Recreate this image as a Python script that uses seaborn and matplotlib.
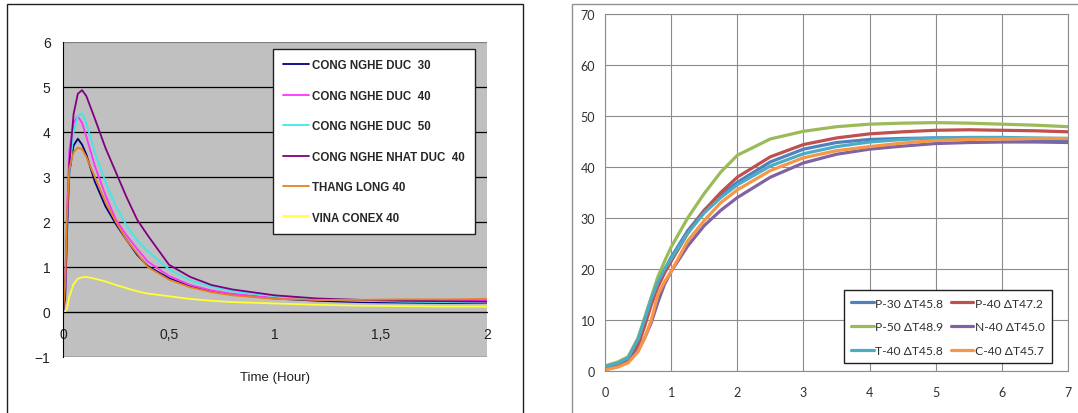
import matplotlib
matplotlib.use('Agg')
import matplotlib.pyplot as plt
from matplotlib.patches import Rectangle
import seaborn as sns

# ── Left chart: time (hour) vs value ──
TIME_L = [0, 0.01, 0.02, 0.03, 0.05, 0.07, 0.09, 0.11, 0.15, 0.2, 0.25, 0.3,
          0.35, 0.4, 0.5, 0.6, 0.7, 0.8, 1.0, 1.2, 1.4, 1.6, 1.8, 2.0]
DUC_30 = [0, 0.4, 2.0, 3.1, 3.7, 3.85, 3.72, 3.5, 2.9, 2.35, 1.95, 1.6,
          1.27, 1.02, 0.75, 0.57, 0.46, 0.39, 0.3, 0.25, 0.22, 0.21, 0.2, 0.2]
DUC_40 = [0, 0.5, 2.4, 3.6, 4.2, 4.35, 4.2, 3.9, 3.25, 2.6, 2.05, 1.7,
          1.4, 1.12, 0.8, 0.6, 0.48, 0.4, 0.31, 0.27, 0.25, 0.24, 0.24, 0.25]
DUC_50 = [0, 0.3, 1.8, 3.1, 4.0, 4.35, 4.42, 4.2, 3.55, 2.9, 2.35, 1.92,
          1.6, 1.35, 0.95, 0.7, 0.56, 0.46, 0.35, 0.28, 0.25, 0.23, 0.22, 0.21]
NHAT_DUC_40 = [0, 0.3, 1.9, 3.3, 4.4, 4.85, 4.93, 4.8, 4.3, 3.65, 3.1, 2.55,
               2.05, 1.7, 1.05, 0.78, 0.6, 0.5, 0.37, 0.3, 0.27, 0.25, 0.24, 0.23]
THANG_LONG_40 = [0, 0.6, 2.3, 3.2, 3.55, 3.65, 3.62, 3.45, 3.0, 2.45, 2.0, 1.6,
                 1.3, 1.0, 0.72, 0.55, 0.44, 0.37, 0.29, 0.27, 0.27, 0.28, 0.28, 0.29]
VINA_CONEX_40 = [0, 0.0, 0.1, 0.35, 0.62, 0.74, 0.77, 0.78, 0.74, 0.68, 0.6, 0.53,
                 0.46, 0.41, 0.35, 0.29, 0.25, 0.22, 0.19, 0.16, 0.14, 0.13, 0.12, 0.12]

LEFT_SERIES = [
    ('CONG NGHE DUC  30', DUC_30, '#000080'),
    ('CONG NGHE DUC  40', DUC_40, '#ff33ff'),
    ('CONG NGHE DUC  50', DUC_50, '#40e8e8'),
    ('CONG NGHE NHAT DUC  40', NHAT_DUC_40, '#800080'),
    ('THANG LONG 40', THANG_LONG_40, '#e8801e'),
    ('VINA CONEX 40', VINA_CONEX_40, '#ffff33'),
]
LEFT_XTICKS = [0, 0.5, 1, 1.5, 2]
LEFT_XLABELS = ['0', '0,5', '1', '1,5', '2']

# ── Right chart ──
TIME_R = [0, 0.2, 0.35, 0.5, 0.6, 0.7, 0.8, 0.9, 1.0, 1.25, 1.5, 1.75, 2.0,
          2.5, 3.0, 3.5, 4.0, 4.5, 5.0, 5.5, 6.0, 6.5, 7.0]
P30 = [0.5, 1.2, 2.2, 5.5, 9.5, 13.5, 17.0, 19.8, 22.3, 27.5, 31.5, 34.5, 37.0,
       41.0, 43.5, 44.8, 45.4, 45.6, 45.7, 45.7, 45.6, 45.4, 45.2]
P40 = [0.5, 1.2, 2.2, 5.0, 8.8, 13.0, 16.5, 19.2, 21.5, 27.0, 31.5, 35.0, 38.0,
       42.0, 44.4, 45.7, 46.5, 46.9, 47.2, 47.3, 47.2, 47.1, 46.9]
P50 = [1.0, 1.8, 2.8, 6.5, 10.5, 14.5, 18.5, 21.5, 24.3, 30.0, 34.8, 39.0, 42.3,
       45.5, 47.0, 47.9, 48.4, 48.6, 48.7, 48.6, 48.4, 48.2, 47.9]
N40 = [0.3, 0.9, 1.8, 4.0, 6.5, 9.5, 13.5, 17.0, 19.5, 24.5, 28.5, 31.5, 34.0,
       38.0, 40.8, 42.5, 43.5, 44.1, 44.6, 44.8, 44.9, 44.9, 44.8]
T40 = [0.8, 1.6, 2.6, 6.2, 10.2, 14.2, 17.5, 20.0, 22.0, 27.0, 31.0, 34.0, 36.5,
       40.2, 42.6, 44.0, 44.9, 45.4, 45.7, 45.8, 45.8, 45.7, 45.6]
C40 = [0.2, 0.8, 1.6, 3.8, 6.5, 10.0, 15.0, 17.5, 19.5, 25.5, 29.5, 33.0, 35.5,
       39.3, 41.8, 43.2, 44.0, 44.7, 45.2, 45.4, 45.5, 45.6, 45.6]

RIGHT_SERIES = [
    ('P-30 ΔT45.8', P30, '#4f81bd'),
    ('P-40 ΔT47.2', P40, '#c0504d'),
    ('P-50 ΔT48.9', P50, '#9bbb59'),
    ('N-40 ΔT45.0', N40, '#8064a2'),
    ('T-40 ΔT45.8', T40, '#4bacc6'),
    ('C-40 ΔT45.7', C40, '#f79646'),
]

sns.set_style('white')
plt.rcParams['font.family'] = ['Liberation Sans', 'DejaVu Sans']

fig = plt.figure(figsize=(10.78, 4.14), dpi=100)

# outer frames
fig.add_artist(Rectangle((7 / 1078, -0.1), 516 / 1078, 1 - 5 / 414 + 0.1,
                         transform=fig.transFigure, fill=False,
                         edgecolor='#202020', linewidth=1))
fig.add_artist(Rectangle((572 / 1078, -0.1), 0.5, 1 - 5 / 414 + 0.1,
                         transform=fig.transFigure, fill=False,
                         edgecolor='#909090', linewidth=1))

# ── left panel ──
axL = fig.add_axes([63 / 1078, 1 - 358 / 414, 424 / 1078, 315 / 414])
axL.set_facecolor('#c0c0c0')
for lab, vals, col in LEFT_SERIES:
    sns.lineplot(x=TIME_L, y=vals, ax=axL, color=col, linewidth=1.3, label=lab)
axL.set_xlim(0, 2)
axL.set_ylim(-1, 6)
for yv in range(-1, 6):
    axL.axhline(yv, color='black', linewidth=0.9, zorder=0.5)
axL.axhline(6, color='#808080', linewidth=0.9, zorder=0.5)
for s in ['top', 'right']:
    axL.spines[s].set_visible(False)
axL.spines['left'].set_color('black')
axL.spines['bottom'].set_position(('data', 0))
axL.spines['bottom'].set_color('black')
axL.set_xticks(LEFT_XTICKS)
axL.set_xticklabels(LEFT_XLABELS)
axL.set_yticks(range(-1, 7))
axL.tick_params(axis='x', direction='in', length=4, width=0.8, color='black',
                pad=11, labelsize=10, labelcolor='#202020')
axL.tick_params(axis='y', length=0, pad=9, labelsize=10, labelcolor='#202020')
axL.set_xlabel('Time (Hour)', fontsize=9.5, color='#202020')
axL.xaxis.set_label_coords(0.5, -0.045)
axL.set_ylabel('')
legL = axL.legend(loc='upper right', bbox_to_anchor=(0.972, 0.978),
                  borderaxespad=0, frameon=True, fancybox=False,
                  edgecolor='#202020', framealpha=1, handlelength=2.2,
                  handletextpad=0.3, labelspacing=1.6, borderpad=0.9,
                  prop={'weight': 'bold', 'size': 8.3})
legL.get_frame().set_linewidth(1.0)

# ── right panel ──
axR = fig.add_axes([605 / 1078, 1 - 372 / 414, 463 / 1078, 357 / 414])
axR.set_facecolor('white')
for lab, vals, col in RIGHT_SERIES:
    sns.lineplot(x=TIME_R, y=vals, ax=axR, color=col, linewidth=2.3, label=lab)
axR.set_xlim(0, 7)
axR.set_ylim(0, 70)
axR.set_xticks(range(0, 8))
axR.set_yticks(range(0, 71, 10))
axR.grid(True, color='#8c8c8c', linewidth=0.8)
axR.set_axisbelow(True)
for s in axR.spines.values():
    s.set_color('#8c8c8c')
    s.set_linewidth(0.8)
axR.tick_params(axis='y', direction='out', length=4, width=0.8, color='#8c8c8c',
                pad=3, labelsize=9, labelcolor='#303030')
axR.tick_params(axis='x', length=0, pad=11, labelsize=9, labelcolor='#303030')
for lbl in axR.get_xticklabels() + axR.get_yticklabels():
    lbl.set_family(['Lato', 'DejaVu Sans'])
axR.set_xlabel('')
axR.set_ylabel('')

h, l = axR.get_legend_handles_labels()
order = [0, 2, 4, 1, 3, 5]
legR = axR.legend([h[i] for i in order], [l[i] for i in order],
                  loc='lower right', bbox_to_anchor=(0.965, 0.022),
                  borderaxespad=0, ncol=2, frameon=True, fancybox=False,
                  edgecolor='#202020', framealpha=1, handlelength=1.9,
                  handletextpad=0.1, labelspacing=1.05, columnspacing=0.6,
                  borderpad=0.6, prop={'family': ['Lato', 'DejaVu Sans'], 'size': 8.7})
legR.get_frame().set_linewidth(1.0)
for t in legR.get_texts():
    t.set_color('#303030')

fig.savefig('out.png', dpi=100)
